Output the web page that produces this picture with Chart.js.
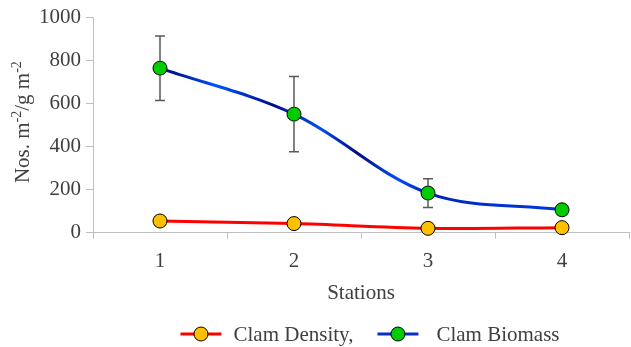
<!DOCTYPE html>
<html>
<head>
<meta charset="utf-8">
<script src="https://cdn.jsdelivr.net/npm/chart.js@4"></script>
<style>
  html, body { margin: 0; padding: 0; background: #ffffff; }
  canvas { display: block; }
</style>
</head>
<body>
<canvas id="c" width="631" height="347"></canvas>
<script>
// Station labels and measured values
const stations = ['1', '2', '3', '4'];
const clamDensity = [54, 42, 20, 23];
const clamBiomass = [765, 551, 184, 106];
const biomassError = [150, 175, 67, 0];
const yTicks = [0, 200, 400, 600, 800, 1000];
const seriesNames = ['Clam Density,', 'Clam Biomass'];

const FONT = 'Liberation Serif, Times New Roman, serif';
const TEXT = '#404040';
const AXIS = '#bfbfbf';
const FS = 21;
const BLUE = '#0a2fc8';

// Shaded stroke for the biomass line (dark/bright bands along the curve)
const blueBands = [
  [0.0, '#001490'], [0.15, '#001a9c'], [0.42, '#0055ff'], [0.85, '#000c88'],
  [1.2, '#004ff0'], [1.47, '#000a80'], [1.78, '#0050f2'], [2.0, '#0022b8'],
  [2.5, '#0032d2'], [3.0, '#0036da']
];
function biomassStroke(ctx) {
  const chart = ctx.chart;
  const x = chart.scales && chart.scales.x;
  if (!chart.chartArea || !x) return BLUE;
  const x0 = x.getPixelForValue(0), x1 = x.getPixelForValue(3);
  const g = chart.ctx.createLinearGradient(x0, 0, x1, 0);
  blueBands.forEach(([v, c]) => g.addColorStop(v / 3, c));
  return g;
}

// Let the plot area run to the canvas edge (markers never sit on the edge)
const noOverflow = {
  id: 'noOverflow',
  beforeElementsUpdate(chart) {
    chart.getSortedVisibleDatasetMetas().forEach(m => { m.controller.getMaxOverflow = () => 0; });
  }
};

// Vertical error bars for the biomass series
const errorBars = {
  id: 'errorBars',
  afterDatasetDraw(chart, args) {
    if (args.index !== 1) return;
    const meta = chart.getDatasetMeta(1);
    const y = chart.scales.y;
    const ctx = chart.ctx;
    ctx.save();
    ctx.strokeStyle = '#595959';
    ctx.lineWidth = 1.5;
    meta.data.forEach((pt, i) => {
      const e = biomassError[i];
      if (!e) return;
      const top = y.getPixelForValue(clamBiomass[i] + e);
      const bot = y.getPixelForValue(clamBiomass[i] - e);
      ctx.beginPath();
      ctx.moveTo(pt.x, top); ctx.lineTo(pt.x, pt.y - 7);
      ctx.moveTo(pt.x, pt.y + 7); ctx.lineTo(pt.x, bot);
      ctx.moveTo(pt.x - 5, top); ctx.lineTo(pt.x + 5, top);
      ctx.moveTo(pt.x - 5, bot); ctx.lineTo(pt.x + 5, bot);
      ctx.stroke();
    });
    ctx.restore();
  }
};

// Rotated y-axis title with superscripts
const yTitle = {
  id: 'yTitle',
  afterDraw(chart) {
    const ctx = chart.ctx;
    const parts = [
      ['Nos. m', false], ['-2', true], ['/g m', false], ['-2', true]
    ];
    const big = FS + 'px ' + FONT, small = '14px ' + FONT;
    ctx.save();
    let total = 0;
    parts.forEach(([t, sup]) => { ctx.font = sup ? small : big; total += ctx.measureText(t).width; });
    const a = chart.chartArea;
    ctx.translate(22, (a.top + a.bottom) / 2 - 3);
    ctx.rotate(-Math.PI / 2);
    ctx.fillStyle = TEXT;
    ctx.textBaseline = 'alphabetic';
    let x = -total / 2;
    parts.forEach(([t, sup]) => {
      ctx.font = sup ? small : big;
      ctx.fillText(t, x, sup ? -1 : 7);
      x += ctx.measureText(t).width;
    });
    ctx.restore();
  }
};

// Legend drawn as line-with-marker swatches
const lineLegend = {
  id: 'lineLegend',
  afterDraw(chart) {
    const ctx = chart.ctx;
    const y = 334;
    const strokes = ['#ff0000', BLUE];
    const gaps = [12, 18];
    ctx.save();
    ctx.font = FS + 'px ' + FONT;
    ctx.textBaseline = 'middle';
    const gapItem = 24, iconW = 41;
    const widths = chart.data.datasets.map((d, i) => iconW + gaps[i] + ctx.measureText(seriesNames[i]).width);
    const total = widths.reduce((s, w) => s + w, 0) + gapItem;
    let x = 370 - total / 2;
    chart.data.datasets.forEach((d, i) => {
      ctx.strokeStyle = strokes[i];
      ctx.lineWidth = 3;
      ctx.beginPath(); ctx.moveTo(x, y); ctx.lineTo(x + iconW, y); ctx.stroke();
      ctx.beginPath(); ctx.arc(x + iconW / 2, y, 7, 0, Math.PI * 2);
      ctx.fillStyle = d.pointBackgroundColor; ctx.fill();
      ctx.lineWidth = 1; ctx.strokeStyle = '#000'; ctx.stroke();
      ctx.fillStyle = TEXT;
      ctx.fillText(seriesNames[i], x + iconW + gaps[i], y + 1);
      x += widths[i] + gapItem;
    });
    ctx.restore();
  }
};

new Chart(document.getElementById('c'), {
  type: 'line',
  data: {
    labels: stations,
    datasets: [
      {
        label: seriesNames[0],
        data: clamDensity,
        borderColor: '#ff0000',
        borderWidth: 3,
        pointBackgroundColor: '#ffc000',
        pointBorderColor: '#000000',
        pointBorderWidth: 1,
        pointRadius: 7,
        tension: 0.35,
        clip: false
      },
      {
        label: seriesNames[1],
        data: clamBiomass,
        borderColor: biomassStroke,
        borderWidth: 3,
        pointBackgroundColor: '#00cc00',
        pointBorderColor: '#000000',
        pointBorderWidth: 1,
        pointRadius: 7,
        tension: 0.35,
        clip: false
      }
    ]
  },
  options: {
    responsive: false,
    animation: false,
    layout: { padding: { top: 5, right: 2, bottom: 41, left: 0 } },
    plugins: {
      legend: { display: false },
      tooltip: { enabled: false }
    },
    scales: {
      x: {
        type: 'category',
        offset: true,
        afterFit: s => { s.paddingLeft = 0; s.paddingRight = 0; },
        grid: { drawOnChartArea: false, offset: true, tickLength: 6, color: AXIS },
        border: { color: AXIS },
        ticks: { color: TEXT, font: { family: FONT, size: FS }, padding: 10 },
        title: { display: true, text: 'Stations', color: TEXT, font: { family: FONT, size: FS }, padding: { top: -3, bottom: 0 } }
      },
      y: {
        min: 0,
        max: 1000,
        afterBuildTicks: s => { s.ticks = yTicks.map(v => ({ value: v })); },
        afterFit: s => { s.width = 93; },
        grid: { drawOnChartArea: false, tickLength: 7, color: AXIS },
        border: { color: AXIS },
        ticks: { color: TEXT, font: { family: FONT, size: FS }, padding: 5, callback: v => String(v) }
      }
    }
  },
  plugins: [noOverflow, errorBars, yTitle, lineLegend]
});
</script>
</body>
</html>
